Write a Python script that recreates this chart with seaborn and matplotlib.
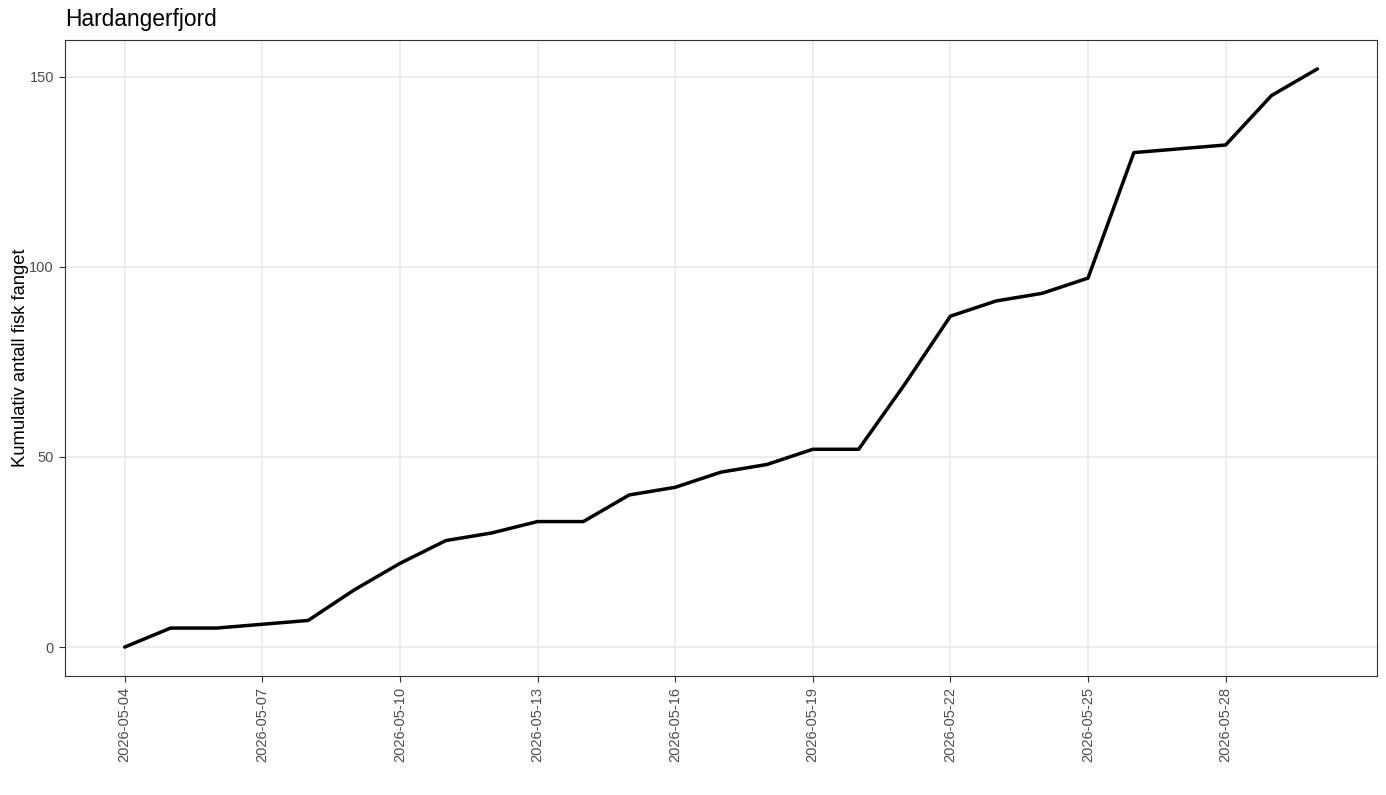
import pandas as pd
import numpy as np
from matplotlib import pyplot as plt
import matplotlib.dates as mdates
import seaborn as sns

# Cumulative catch per day
dates = pd.date_range("2026-05-04", "2026-05-30", freq="D")
cum_catch = [0, 5, 5, 6, 7, 15, 22, 28, 30, 33, 33, 40, 42, 46, 48, 52, 52,
             69, 87, 91, 93, 97, 130, 131, 132, 145, 152]
title = "Hardangerfjord"
ylabel = "Kumulativ antall fisk fanget"

df = pd.DataFrame({"dato": dates, "kumulativ": cum_catch})

sns.set_theme(style="white")
plt.rcParams['font.family'] = ['Liberation Sans', 'DejaVu Sans']

fig = plt.figure(figsize=(13.86, 7.95), dpi=100)
ax = fig.add_axes([65 / 1386, 1 - 676 / 795, (1377 - 65) / 1386, (676 - 40) / 795])

sns.lineplot(x="dato", y="kumulativ", data=df, color="black", linewidth=2.5, ax=ax)

# ggplot-like limits (5% expansion)
span = dates[-1] - dates[0]
ax.set_xlim(dates[0] - span * 0.05, dates[-1] + span * 0.05)
ax.set_ylim(-7.6, 152 + 7.6)

ax.xaxis.set_major_locator(mdates.DayLocator(bymonthday=[4, 7, 10, 13, 16, 19, 22, 25, 28]))
ax.xaxis.set_major_formatter(mdates.DateFormatter("%Y-%m-%d"))
ax.set_yticks([0, 50, 100, 150])

ax.grid(True, color="#EBEBEB", linewidth=1.3)
ax.set_axisbelow(True)
for s in ax.spines.values():
    s.set_color("#333333")
    s.set_linewidth(0.8)

ax.tick_params(axis="both", colors="#333333", length=4.5, width=0.8,
               labelsize=10.5, labelcolor="#4D4D4D", bottom=True, left=True)
plt.setp(ax.get_xticklabels(), rotation=90, ha="center", va="top")

ax.set_xlabel("")
ax.set_ylabel(ylabel, fontsize=13.2, color="black", labelpad=0)
ax.set_title(title, loc="left", fontsize=16.4, color="black", pad=10)

fig.savefig("out.png", dpi=100)
